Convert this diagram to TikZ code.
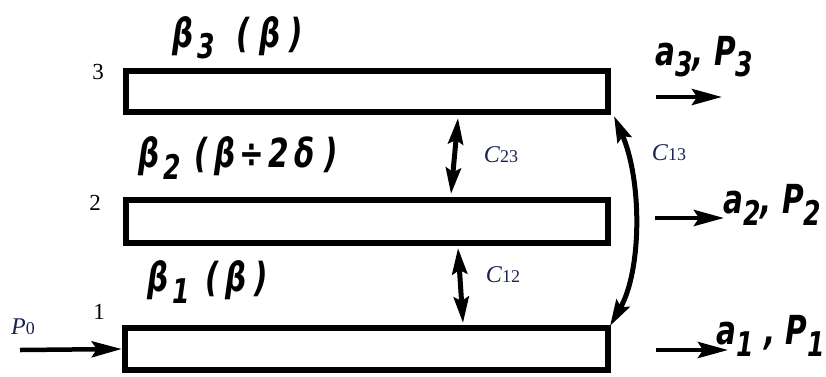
\documentclass[tikz,border=0pt]{standalone}
\usepackage{fontspec}
\setmainfont{Liberation Serif}
\newfontfamily\hand[FakeStretch=0.82]{DejaVu Sans Condensed}
\usetikzlibrary{arrows.meta}
\definecolor{labc}{RGB}{25,35,80}
\newcommand{\lo}[1]{\raisebox{-0.28em}{\scalebox{0.85}{#1}}}
\tikzset{
  wg/.style={draw=black, line width=6.5pt, fill=white, rectangle, inner sep=0pt},
  hl/.style={font=\hand\bfseries\itshape\fontsize{40}{40}\selectfont, inner sep=0pt},
  num/.style={font=\fontsize{23}{23}\selectfont, inner sep=0pt},
  cl/.style={font=\fontsize{24}{24}\selectfont, text=labc, inner sep=0pt},
  flow/.style={line width=4.5pt, -{Stealth[length=30pt,width=16pt,inset=5pt]}},
  coup/.style={line width=5pt, {Stealth[length=26pt,width=15pt,inset=4pt]}-{Stealth[length=26pt,width=15pt,inset=4pt]}}
}
\begin{document}
\begin{tikzpicture}[x=1pt,y=-1pt]
\useasboundingbox (0,0) rectangle (826,376);
% waveguides
\node[wg, minimum width=482pt, minimum height=41pt] (w3) at (367,91.5) {};
\node[wg, minimum width=482pt, minimum height=43pt] (w2) at (367,221.5) {};
\node[wg, minimum width=483pt, minimum height=42pt] (w1) at (366.5,349) {};
% numbers
\node[num] (n3) at (98,72) {3};
\node[num] (n2) at (95,203) {2};
\node[num] (n1) at (99,312) {1};
% beta labels
\node[hl, anchor=west] (b3) at (172,38) {β\kern4pt\lo{3}\hspace{22pt}(\kern9ptβ\kern9pt)};
\node[hl, anchor=west] (b2) at (138,158) {β\kern4pt\lo{2}\hspace{14pt}(\kern6ptβ\kern4pt÷\kern4pt2\kern6ptδ\kern10pt)};
\node[hl, anchor=west] (b1) at (147,282) {β\kern4pt\lo{1}\hspace{16pt}(\kern6ptβ\kern8pt)};
% coupling
\coordinate (c23a) at (458,118);
\coordinate (c23b) at (451,194);
\draw[coup] (c23a) -- (c23b);
\node[cl] (l23) at (501,155) {\textit{C}\scalebox{0.75}{23}};
\coordinate (c12a) at (458,248);
\coordinate (c12b) at (463,323);
\draw[coup] (c12a) -- (c12b);
\node[cl] (l12) at (503,275) {\textit{C}\scalebox{0.75}{12}};
\coordinate (c13a) at (614,116);
\coordinate (c13b) at (610,326);
\draw[coup] (c13a) .. controls (642,180) and (642,270) .. (c13b);
\node[cl] (l13) at (669,153) {\textit{C}\scalebox{0.75}{13}};
% input
\node[cl] (p0) at (23,327) {\textit{P}\scalebox{0.75}{0}};
\coordinate (in0) at (20,350);
\draw[flow] (in0) -- (w1.west);
% outputs
\coordinate (o3a) at (656,97);
\coordinate (o3b) at (722,97);
\draw[flow] (o3a) -- (o3b);
\coordinate (o2a) at (655,218);
\coordinate (o2b) at (724,218);
\draw[flow] (o2a) -- (o2b);
\coordinate (o1a) at (656,350);
\coordinate (o1b) at (728,350);
\draw[flow] (o1a) -- (o1b);
\node[hl, anchor=west] (a3) at (655,57) {a\lo{3}, P\lo{3}};
\node[hl, anchor=west] (a2) at (723,205) {a\lo{2}, P\lo{2}};
\node[hl, anchor=east] (a1) at (825,336) {a\lo{1} , P\lo{1}};
\end{tikzpicture}
\end{document}
